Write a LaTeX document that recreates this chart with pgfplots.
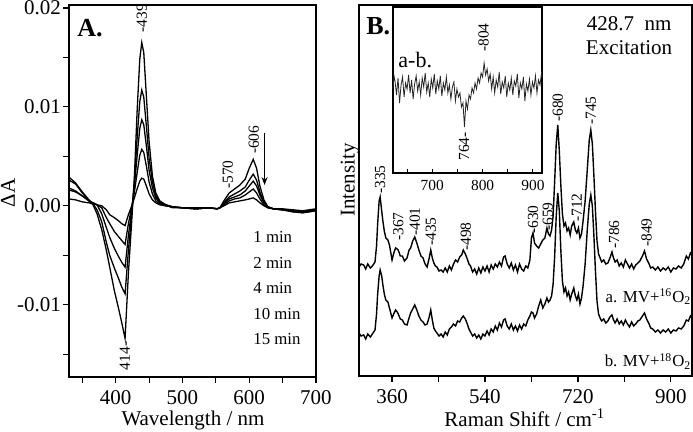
\documentclass[border=0pt]{standalone}
\usepackage{fontspec}
\setmainfont{Liberation Serif}
\usepackage{pgfplots}
\usepackage{pgfplotstable}
\pgfplotsset{compat=1.18}
\usetikzlibrary{arrows.meta}

\pgfplotstableread{
l c1 c2 c3 c4 c5
330 0.0007 0.0018 0.0016 0.0029 0.0026
340 0.0006 0.0015 0.0014 0.0023 0.0022
350 0.0004 0.0010 0.0010 0.0014 0.0013
360 0.0003 0.0005 0.0005 0.0006 0.0005
366 0.0002 0.0003 0.0003 0.0002 0.0001
372 0.0001 0.0001 0.0001 -0.0004 -0.0008
379 0.0000 -0.0002 -0.0008 -0.0016 -0.0024
386 -0.0004 -0.0012 -0.0022 -0.0037 -0.0045
391 -0.0009 -0.0018 -0.0032 -0.0050 -0.0062
398 -0.0012 -0.0026 -0.0043 -0.0063 -0.0086
404 -0.0015 -0.0031 -0.0051 -0.0073 -0.0103
409 -0.0018 -0.0035 -0.0057 -0.0082 -0.0118
414 -0.0020 -0.0039 -0.0062 -0.0089 -0.0134
419 -0.0009 -0.0018 -0.0030 -0.0045 -0.0068
424 0.0000 -0.0001 -0.0004 -0.0008 -0.0015
428 0.0008 0.0014 0.0020 0.0025 0.0030
432 0.0017 0.0033 0.0050 0.0068 0.0095
436 0.0025 0.0051 0.0078 0.0105 0.0148
439 0.0028 0.0057 0.0087 0.0117 0.0165
442 0.0027 0.0054 0.0082 0.0110 0.0155
446 0.0020 0.0040 0.0060 0.0080 0.0110
450 0.0012 0.0024 0.0036 0.0048 0.0065
455 0.0006 0.0012 0.0018 0.0024 0.0030
460 0.0003 0.0005 0.0008 0.0010 0.0013
466 0.0001 0.0002 0.0003 0.0004 0.0005
475 0.0000 0.0000 0.0001 0.0001 0.0001
485 -0.0001 -0.0001 -0.0001 -0.0001 -0.0002
500 -0.0002 -0.0002 -0.0002 -0.0002 -0.0002
520 -0.0003 -0.0003 -0.0002 -0.0003 -0.0003
540 -0.0002 -0.0002 -0.0002 -0.0002 -0.0002
552 -0.0003 -0.0003 -0.0003 -0.0003 -0.0003
556 -0.0002 -0.0002 -0.0002 -0.0002 -0.0002
562 0.0000 0.0001 0.0002 0.0003 0.0005
570 0.0003 0.0005 0.0007 0.0009 0.0013
578 0.0004 0.0007 0.0009 0.0012 0.0017
586 0.0005 0.0008 0.0011 0.0015 0.0021
594 0.0006 0.0011 0.0015 0.0019 0.0027
600 0.0007 0.0014 0.0020 0.0026 0.0038
606 0.0008 0.0017 0.0025 0.0032 0.0047
611 0.0006 0.0013 0.0020 0.0026 0.0038
616 0.0003 0.0007 0.0011 0.0014 0.0020
622 0.0000 0.0001 0.0003 0.0004 0.0006
628 -0.0002 -0.0002 -0.0001 -0.0001 -0.0001
636 -0.0003 -0.0003 -0.0003 -0.0003 -0.0003
650 -0.0003 -0.0004 -0.0004 -0.0004 -0.0004
665 -0.0004 -0.0005 -0.0006 -0.0006 -0.0005
680 -0.0005 -0.0006 -0.0007 -0.0007 -0.0006
690 -0.0004 -0.0005 -0.0006 -0.0006 -0.0005
700 -0.0003 -0.0004 -0.0005 -0.0005 -0.0004
}\specA

\pgfplotstableread{
w a b
296 109 43
300 112 40
305 111 41
309 107 37
313 112 42
318 108 39
322 110 42
327 114 46
330 130 62
332 151 81
335 175 100
337 179 106
340 165 100
342 156 92
345 145 82
348 138 76
352 136 74
355 131 68
358 122 62
360 116 58
364 124 63
367 128 66
370 127 64
372 126 62
376 120 57
380 120 56
384 115 52
389 118 51
393 126 58
396 128 63
400 135 67
404 139 71
408 133 66
412 126 60
416 120 56
420 118 54
424 112 51
428 109 52
432 118 59
435 126 66
438 118 56
441 113 48
444 110 45
447 109 43
451 105 40
455 106 42
459 104 39
463 108 44
467 104 41
471 110 47
475 106 49
479 112 52
483 116 50
487 114 55
491 119 54
495 121 58
498 126 60
502 122 57
505 118 53
509 112 47
512 110 44
516 104 40
520 107 42
524 102 38
528 108 41
532 103 37
536 109 42
540 105 40
544 110 45
548 104 41
552 111 47
556 107 44
560 112 50
564 109 46
568 114 53
572 110 49
576 119 56
579 120 57
583 112 50
587 108 47
591 113 52
595 106 46
599 111 50
603 104 45
607 112 51
611 107 47
615 105 52
619 110 50
623 108 56
627 116 60
630 138 64
633 143 63
636 133 58
640 130 62
644 128 70
648 132 76
652 136 68
656 138 72
660 148 78
663 142 74
666 140 76
669 146 80
672 160 92
675 195 120
678 232 160
681 251 183
684 225 165
687 190 125
690 162 95
693 150 84
696 153 88
699 145 80
702 148 84
705 141 76
708 150 82
712 154 88
715 146 80
718 143 76
721 148 82
724 138 72
727 142 78
730 155 90
734 175 112
738 205 145
742 236 172
745 246 181
748 232 170
751 200 140
754 165 105
757 135 75
760 122 62
763 118 58
766 114 55
770 116 57
774 112 53
778 113 55
782 118 59
786 124 61
789 118 56
792 114 53
796 116 57
800 110 52
804 113 55
808 109 51
812 116 56
816 112 52
820 108 49
824 112 54
828 107 50
832 111 52
836 113 55
840 115 56
845 120 60
849 125 63
853 117 57
857 113 53
861 108 48
865 109 47
870 106 44
875 109 46
880 105 43
885 108 46
890 106 44
895 109 47
900 104 43
905 108 46
910 107 45
915 110 48
920 108 47
925 112 50
930 120 56
934 117 55
938 123 60
941 121 58
}\ramanB

\pgfplotstableread{
w d
622 84
624 97
626 92
629 78
632 95
635 70
638 88
641 96
644 76
647 90
650 84
653 98
656 80
659 93
662 74
665 89
668 97
671 82
674 91
677 78
680 95
683 86
686 100
689 81
692 90
695 76
698 94
701 85
704 99
707 79
710 92
713 84
716 97
719 77
722 90
725 83
728 96
731 80
734 88
737 74
740 86
743 91
746 72
749 84
752 76
755 80
758 66
761 70
764 46
767 72
770 64
773 78
776 74
779 85
782 80
785 90
788 84
791 95
794 90
797 100
800 96
803 110
806 98
809 104
812 92
815 99
818 84
821 96
824 80
827 93
830 86
833 101
836 79
839 91
842 85
845 97
848 76
851 90
854 83
857 95
860 78
863 92
866 87
869 99
872 75
875 90
878 84
881 96
884 72
887 89
890 82
893 94
896 78
899 91
902 85
905 97
908 80
911 93
914 88
917 100
918 96
}\diffB

\newcommand{\labfont}{\fontsize{10.5}{12}\selectfont}
\newcommand{\pkfont}{\fontsize{7.7}{9}\selectfont}
\newcommand{\legfont}{\fontsize{8.4}{10}\selectfont}
\tikzset{pk/.style={font=\pkfont, rotate=90, anchor=west, inner sep=0.5pt},
         txt/.style={anchor=west, inner sep=0pt}}

\begin{document}
\begin{tikzpicture}
\useasboundingbox (0,0) rectangle (346.5pt,216pt);

% ---------------- Panel A ----------------
\begin{axis}[
  at={(34.5pt,27.5pt)}, anchor=south west, scale only axis,
  width=123.5pt, height=186pt,
  xmin=330, xmax=700, ymin=-0.0173, ymax=0.0203,
  xtick={400,500,600,700}, minor xtick={350,450,550,650},
  ytick={-0.01,0,0.01,0.02}, yticklabels={-0.01,0.00,0.01,0.02},
  minor ytick={-0.015,-0.005,0.005,0.015},
  scaled y ticks=false,
  tick pos=left, tick align=outside,
  major tick length=3pt, minor tick length=3pt,
  tick style={black, line width=0.6pt},
  axis line style={line width=0.8pt},
  tick label style={font=\labfont},
  yticklabel style={xshift=2.5pt},
  /pgf/number format/assume math mode=true,
  clip=false,
]
\addplot[black, line width=0.65pt] table[x=l, y=c1] {\specA};
\addplot[black, line width=0.65pt] table[x=l, y=c2] {\specA};
\addplot[black, line width=0.65pt] table[x=l, y=c3] {\specA};
\addplot[black, line width=0.65pt] table[x=l, y=c4] {\specA};
\addplot[black, line width=0.65pt] table[x=l, y=c5] {\specA};
\node[txt, font=\bfseries\fontsize{13}{14}\selectfont] at (rel axis cs:0.032,0.937) {A.};
\node[pk] at (axis cs:439,0.0174) {-439};
\node[pk] at (axis cs:607,0.0051) {-606};
\node[pk] at (axis cs:568,0.0016) {-570};
\node[pk, anchor=east] at (axis cs:413.5,-0.0136) {414-};
\draw[-{Stealth[length=4pt,width=3pt]}, line width=0.6pt] (axis cs:623,0.0074) -- (axis cs:623,0.0021);
\node[txt, font=\legfont] at (rel axis cs:0.745,0.376) {1 min};
\node[txt, font=\legfont] at (rel axis cs:0.745,0.306) {2 min};
\node[txt, font=\legfont] at (rel axis cs:0.745,0.239) {4 min};
\node[txt, font=\legfont] at (rel axis cs:0.745,0.169) {10 min};
\node[txt, font=\legfont] at (rel axis cs:0.745,0.102) {15 min};
\node[font=\labfont, rotate=90] at (rel axis cs:-0.247,0.495) {ΔA};
\node[font=\labfont] at (rel axis cs:0.502,-0.116) {Wavelength / nm};
\end{axis}

% ---------------- Panel B ----------------
\begin{axis}[
  at={(179.5pt,28pt)}, anchor=south west, scale only axis,
  width=166.5pt, height=185.5pt,
  xmin=296, xmax=941, ymin=0, ymax=371,
  xtick={360,540,720,900}, minor xtick={450,630,810},
  ytick=\empty,
  tick pos=left, tick align=outside,
  major tick length=3pt, minor tick length=3pt,
  tick style={black, line width=0.6pt},
  axis line style={line width=0.8pt},
  tick label style={font=\labfont},
  /pgf/number format/assume math mode=true,
  clip=false,
]
\addplot[black, line width=0.7pt] table[x=w, y=a] {\ramanB};
\addplot[black, line width=0.7pt] table[x=w, y=b] {\ramanB};
\node[txt, font=\bfseries\fontsize{13}{14}\selectfont] at (rel axis cs:0.021,0.943) {B.};
\node[font=\labfont] at (rel axis cs:0.811,0.951) {428.7\ \ nm};
\node[font=\labfont] at (rel axis cs:0.811,0.884) {Excitation};
\node[font=\legfont, anchor=east, inner sep=0pt] at (rel axis cs:0.999,0.213) {a. MV+\textsuperscript{16}O\textsubscript{2}};
\node[font=\legfont, anchor=east, inner sep=0pt] at (rel axis cs:0.999,0.040) {b. MV+\textsuperscript{18}O\textsubscript{2}};
\node[pk] at (axis cs:337,181) {-335};
\node[pk] at (axis cs:372,134) {-367};
\node[pk] at (axis cs:404,139) {-401};
\node[pk] at (axis cs:435,129) {-435};
\node[pk] at (axis cs:503,124) {-498};
\node[pk] at (axis cs:633,141) {-630};
\node[pk] at (axis cs:662,144) {-659};
\node[pk] at (axis cs:681,253) {-680};
\node[pk] at (axis cs:718,153) {-712};
\node[pk] at (axis cs:745,250) {-745};
\node[pk] at (axis cs:790,126) {-786};
\node[pk] at (axis cs:853,128) {-849};
\node[font=\labfont, rotate=90] at (rel axis cs:-0.027,0.528) {Intensity};
\node[font=\labfont] at (rel axis cs:0.498,-0.113) {Raman Shift / cm\textsuperscript{-1}};
\end{axis}

% ---------------- Inset ----------------
\begin{axis}[
  at={(196.5pt,129.5pt)}, anchor=south west, scale only axis,
  width=74.5pt, height=83pt,
  xmin=622, xmax=918, ymin=0, ymax=166,
  xtick={700,800,900}, minor xtick={650,750,850},
  ytick=\empty,
  tick pos=left, tick align=inside,
  major tick length=2pt, minor tick length=2pt,
  tick style={black, line width=0.5pt},
  axis line style={line width=0.7pt},
  axis background/.style={fill=white},
  tick label style={font=\pkfont},
  /pgf/number format/assume math mode=true,
  clip=false,
]
\addplot[black!85, line width=0.4pt] table[x=w, y=d] {\diffB};
\node[txt, font=\fontsize{11}{12}\selectfont] at (rel axis cs:0.034,0.68) {a-b.};
\node[pk] at (axis cs:802,120) {-804};
\node[pk, anchor=east] at (axis cs:763,42) {764-};
\end{axis}
\end{tikzpicture}
\end{document}
